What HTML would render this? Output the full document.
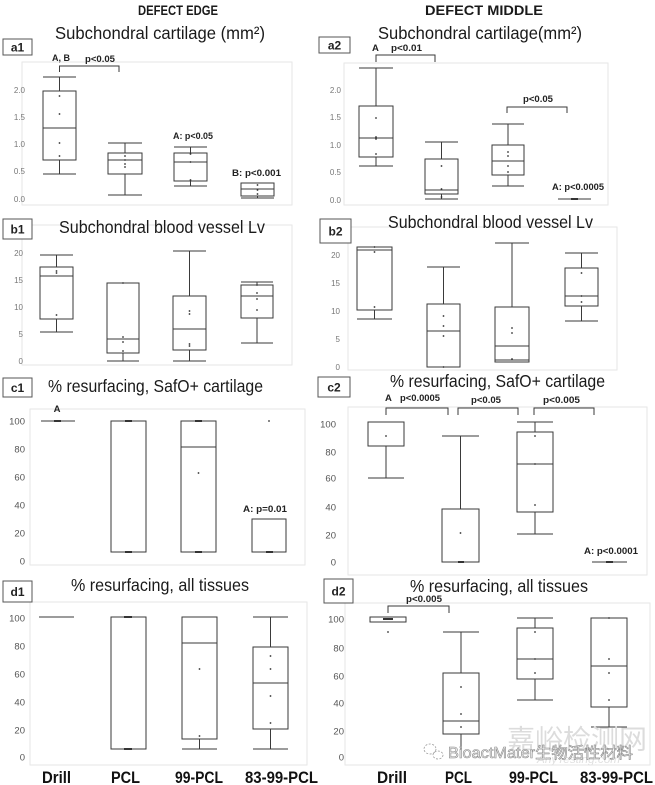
<!DOCTYPE html>
<html><head><meta charset="utf-8"><style>
html,body{margin:0;padding:0;background:#fff;width:655px;height:785px;overflow:hidden}
svg{display:block}
text{font-family:"Liberation Sans","Noto Sans CJK SC",sans-serif}
.t{font-size:17.5px;fill:#1a1a1a}
.h{font-size:14px;font-weight:bold;fill:#1a1a1a}
.lb{font-size:12px;font-weight:bold;fill:#222}
.an{font-size:9.5px;font-weight:bold;fill:#222}
.tk{font-size:8px;fill:#777;text-anchor:end}
.tk2{font-size:9.5px;fill:#555;text-anchor:end}
.xl{font-size:17px;font-weight:bold;fill:#111}
.b{fill:none;stroke:#3a3a3a;stroke-width:1}
.fr{fill:none;stroke:#e6e6e6;stroke-width:1}
.lbx{fill:#fff;stroke:#555;stroke-width:1}
.d{fill:#333}
</style></head><body>
<svg width="655" height="785" viewBox="0 0 655 785" xmlns="http://www.w3.org/2000/svg">
<!-- panel frames -->
<rect class="fr" x="22" y="62" width="270" height="143"/>
<rect class="fr" x="344" y="63" width="264" height="142"/>
<rect class="fr" x="22" y="225" width="270" height="140"/>
<rect class="fr" x="348" y="227" width="269" height="143"/>
<rect class="fr" x="30" y="409" width="275" height="156"/>
<rect class="fr" x="348" y="407" width="299" height="168"/>
<rect class="fr" x="30" y="602" width="277" height="163"/>
<rect class="fr" x="345" y="603" width="305" height="162"/>

<!-- headers -->
<text class="h" x="138" y="15" textLength="80" lengthAdjust="spacingAndGlyphs">DEFECT EDGE</text>
<text class="h" x="425" y="15" textLength="118" lengthAdjust="spacingAndGlyphs">DEFECT MIDDLE</text>

<!-- titles -->
<text class="t" x="55" y="39" textLength="210" lengthAdjust="spacingAndGlyphs">Subchondral cartilage (mm²)</text>
<text class="t" x="378" y="39" textLength="204" lengthAdjust="spacingAndGlyphs">Subchondral cartilage(mm²)</text>
<text class="t" x="59" y="233" textLength="206" lengthAdjust="spacingAndGlyphs">Subchondral blood vessel Lv</text>
<text class="t" x="388" y="228" textLength="205" lengthAdjust="spacingAndGlyphs">Subchondral blood vessel Lv</text>
<text class="t" x="48" y="392" textLength="215" lengthAdjust="spacingAndGlyphs">% resurfacing, SafO+ cartilage</text>
<text class="t" x="390" y="387" textLength="215" lengthAdjust="spacingAndGlyphs">% resurfacing, SafO+ cartilage</text>
<text class="t" x="71" y="591" textLength="178" lengthAdjust="spacingAndGlyphs">% resurfacing, all tissues</text>
<text class="t" x="410" y="592" textLength="178" lengthAdjust="spacingAndGlyphs">% resurfacing, all tissues</text>

<!-- label boxes -->
<rect class="lbx" x="3" y="39" width="29" height="16"/><text class="lb" x="17.5" y="51.5" text-anchor="middle">a1</text>
<rect class="lbx" x="319" y="37" width="31" height="16"/><text class="lb" x="334.5" y="49.5" text-anchor="middle">a2</text>
<rect class="lbx" x="3" y="219" width="29" height="20"/><text class="lb" x="17.5" y="233.5" text-anchor="middle">b1</text>
<rect class="lbx" x="320" y="219" width="31" height="24"/><text class="lb" x="335.5" y="235.5" text-anchor="middle">b2</text>
<rect class="lbx" x="3" y="378" width="29" height="19"/><text class="lb" x="17.5" y="392" text-anchor="middle">c1</text>
<rect class="lbx" x="318" y="377" width="32" height="20"/><text class="lb" x="334" y="391.5" text-anchor="middle">c2</text>
<rect class="lbx" x="3" y="581" width="29" height="21"/><text class="lb" x="17.5" y="596" text-anchor="middle">d1</text>
<rect class="lbx" x="324" y="579" width="29" height="24"/><text class="lb" x="338.5" y="595.5" text-anchor="middle">d2</text>

<!-- tick labels -->
<g class="tk">
<text x="25" y="93">2.0</text><text x="25" y="120">1.5</text><text x="25" y="147">1.0</text><text x="25" y="174">0.5</text><text x="25" y="202">0.0</text>
<text x="341" y="93">2.0</text><text x="341" y="120">1.5</text><text x="341" y="148">1.0</text><text x="341" y="175">0.5</text><text x="341" y="203">0.0</text>
<text x="23" y="256">20</text><text x="23" y="283">15</text><text x="23" y="310">10</text><text x="23" y="337">5</text><text x="23" y="364">0</text>
<text x="340" y="258">20</text><text x="340" y="286">15</text><text x="340" y="314">10</text><text x="340" y="342">5</text><text x="340" y="370">0</text>
</g>
<g class="tk2">
<text x="25" y="424.5">100</text><text x="25" y="452.5">80</text><text x="25" y="480.5">60</text><text x="25" y="508.5">40</text><text x="25" y="536.5">20</text><text x="25" y="564.5">0</text>
<text x="336" y="427.5">100</text><text x="336" y="455.5">80</text><text x="336" y="481.5">60</text><text x="336" y="510.5">40</text><text x="336" y="538.5">20</text><text x="336" y="565.5">0</text>
<text x="25" y="621.5">100</text><text x="25" y="649.5">80</text><text x="25" y="677.5">60</text><text x="25" y="705.5">40</text><text x="25" y="733.5">20</text><text x="25" y="760.5">0</text>
<text x="344" y="622.5">100</text><text x="344" y="651.5">80</text><text x="344" y="679.5">60</text><text x="344" y="706.5">40</text><text x="344" y="734.5">20</text><text x="344" y="760.5">0</text>
</g>

<!-- boxes -->
<g class="b">
<!-- a1 -->
<path d="M43 77H76M59.5 77V91M43 128H76M59.5 160V174M43 174H76"/><rect x="43" y="91" width="33" height="69"/>
<path d="M108 143H142M125 143V153M108 160H142M125 174V195M108 195H142"/><rect x="108" y="153" width="34" height="21"/>
<path d="M174 147H207M190.5 147V153M174 162H207M190.5 181V186M174 186H207"/><rect x="174" y="153" width="33" height="28"/>
<path d="M241 189H274M257.5 196V198M241 198H274"/><rect x="241" y="183" width="33" height="13"/>
<path d="M59.5 72V66H119V72"/>
<!-- a2 -->
<path d="M359 68H393M376 68V106M359 138H393M376 157V166M359 166H393"/><rect x="359" y="106" width="34" height="51"/>
<path d="M425 142H458M441.5 142V159M425 190H458M441.5 194V199M425 199H458"/><rect x="425" y="159" width="33" height="35"/>
<path d="M492 124H524M508 124V145M492 161H524M508 175V186M492 186H524"/><rect x="492" y="145" width="32" height="30"/>
<path d="M558 199H591"/>
<path d="M376 62V55H435V62M507 113V107H567V113"/>
<!-- b1 -->
<path d="M40 255H73M56.5 255V267M40 276H73M56.5 319V332M40 332H73"/><rect x="40" y="267" width="33" height="52"/>
<path d="M107 339H139M123 353V361M107 361H139"/><rect x="107" y="283" width="32" height="70"/>
<path d="M173 251H206M189.5 251V296M173 329H206M189.5 350V361M173 361H206"/><rect x="173" y="296" width="33" height="54"/>
<path d="M241 282H273M257 282V285M241 296H273M257 318V343M241 343H273"/><rect x="241" y="285" width="32" height="33"/>
<!-- b2 -->
<path d="M357 250H392M374.5 310V319M357 319H392"/><rect x="357" y="247" width="35" height="63"/>
<path d="M427 267H460M443.5 267V304M427 331H460"/><rect x="427" y="304" width="33" height="63"/>
<path d="M495 243H529M512 243V307M495 346H529M495 360H529"/><rect x="495" y="307" width="34" height="55"/>
<path d="M565 253H598M581.5 253V268M565 296H598M581.5 306V321M565 321H598"/><rect x="565" y="268" width="33" height="38"/>
<!-- c1 -->
<path d="M41 421H75"/>
<rect x="111" y="421" width="35" height="131"/>
<rect x="181" y="421" width="35" height="131"/><path d="M181 447H216"/>
<rect x="252" y="519" width="34" height="33"/>
<!-- c2 -->
<rect x="368" y="422" width="36" height="24"/><path d="M386 446V478M368 478H404"/>
<path d="M442 436H479M460.5 436V509"/><rect x="442" y="509" width="37" height="53"/>
<path d="M517 422H553M535 422V432M517 464H553M535 512V534M517 534H553"/><rect x="517" y="432" width="36" height="80"/>
<path d="M592 562H627"/>
<path d="M386 415V408H448V415M458 415V408H518V415M534 415V408H594V415"/>
<!-- d1 -->
<path d="M39 617H74"/>
<rect x="111" y="617" width="35" height="132"/>
<rect x="182" y="617" width="35" height="122"/><path d="M182 643H217M199.5 739V749M182 749H217"/>
<path d="M253 617H288M270.5 617V647M253 683H288M270.5 729V749M253 749H288"/><rect x="253" y="647" width="35" height="82"/>
<!-- d2 -->
<rect x="370" y="617" width="36" height="5"/>
<path d="M443 632H479M461 632V673M443 721H479M461 734V752"/><rect x="443" y="673" width="36" height="61"/>
<path d="M517 618H553M535 618V628M517 659H553M535 679V700M517 700H553"/><rect x="517" y="628" width="36" height="51"/>
<path d="M591 666H627M609 707V727M591 727H627"/><rect x="591" y="618" width="36" height="89"/>
<path d="M388 613V606H449V613"/>
</g>
<!-- small thick marks -->
<g stroke="#333" stroke-width="2">
<path d="M54 421H61M125 421H132M125 552H132M195 421H202M195 552H202M266 552H273"/>
<path d="M571 199H578M606 562H613"/>
<path d="M383 619H393M458 562H464"/>
<path d="M124 617H132M124 749H132"/>
</g>

<!-- dots -->
<g class="d">
<circle cx="59.5" cy="96" r="0.9"/><circle cx="59.5" cy="114" r="0.9"/><circle cx="59.5" cy="143" r="0.9"/><circle cx="59.5" cy="156" r="0.9"/>
<circle cx="125" cy="156" r="0.9"/><circle cx="125" cy="160" r="0.9"/><circle cx="125" cy="164" r="0.9"/><circle cx="125" cy="167" r="0.9"/>
<circle cx="190.5" cy="154" r="0.9"/><circle cx="190.5" cy="162" r="0.9"/><circle cx="190.5" cy="180" r="0.9"/>
<circle cx="257.5" cy="185" r="0.9"/><circle cx="257.5" cy="190" r="0.9"/><circle cx="257.5" cy="194" r="0.9"/>
<circle cx="376" cy="118" r="0.9"/><circle cx="376" cy="137" r="0.9"/><circle cx="376" cy="139" r="0.9"/><circle cx="376" cy="154" r="0.9"/>
<circle cx="441.5" cy="166" r="0.9"/><circle cx="441.5" cy="189" r="0.9"/><circle cx="441.5" cy="197" r="0.9"/>
<circle cx="508" cy="152" r="0.9"/><circle cx="508" cy="156" r="0.9"/><circle cx="508" cy="166" r="0.9"/><circle cx="508" cy="172" r="0.9"/>
<circle cx="56.5" cy="271" r="0.9"/><circle cx="56.5" cy="273" r="0.9"/><circle cx="56.5" cy="315" r="0.9"/>
<circle cx="123" cy="283" r="0.9"/><circle cx="123" cy="337" r="0.9"/><circle cx="123" cy="342" r="0.9"/><circle cx="123" cy="351" r="0.9"/>
<circle cx="189.5" cy="311" r="0.9"/><circle cx="189.5" cy="314" r="0.9"/><circle cx="189.5" cy="344" r="0.9"/><circle cx="189.5" cy="346" r="0.9"/>
<circle cx="257" cy="285" r="0.9"/><circle cx="257" cy="293" r="0.9"/><circle cx="257" cy="299" r="0.9"/><circle cx="257" cy="310" r="0.9"/>
<circle cx="374.5" cy="247" r="0.9"/><circle cx="374.5" cy="252" r="0.9"/><circle cx="374.5" cy="307" r="0.9"/>
<circle cx="443.5" cy="316" r="0.9"/><circle cx="443.5" cy="326" r="0.9"/><circle cx="443.5" cy="336" r="0.9"/><circle cx="443.5" cy="367" r="0.9"/>
<circle cx="512" cy="328" r="0.9"/><circle cx="512" cy="333" r="0.9"/><circle cx="512" cy="359" r="0.9"/>
<circle cx="581.5" cy="273" r="0.9"/><circle cx="581.5" cy="296" r="0.9"/><circle cx="581.5" cy="302" r="0.9"/>
<circle cx="198.5" cy="473" r="0.9"/><circle cx="269" cy="421" r="0.9"/>
<circle cx="386" cy="436" r="0.9"/><circle cx="460.5" cy="533" r="0.9"/><circle cx="535" cy="436" r="0.9"/><circle cx="535" cy="464" r="0.9"/><circle cx="535" cy="505" r="0.9"/>
<circle cx="199.5" cy="669" r="0.9"/><circle cx="199.5" cy="736" r="0.9"/>
<circle cx="270.5" cy="656" r="0.9"/><circle cx="270.5" cy="669" r="0.9"/><circle cx="270.5" cy="696" r="0.9"/><circle cx="270.5" cy="723" r="0.9"/>
<circle cx="388" cy="632" r="0.9"/><circle cx="461" cy="687" r="0.9"/><circle cx="461" cy="714" r="0.9"/><circle cx="461" cy="727" r="0.9"/>
<circle cx="535" cy="632" r="0.9"/><circle cx="535" cy="659" r="0.9"/><circle cx="535" cy="673" r="0.9"/>
<circle cx="609" cy="618" r="0.9"/><circle cx="609" cy="659" r="0.9"/><circle cx="609" cy="673" r="0.9"/><circle cx="609" cy="700" r="0.9"/>
</g>

<!-- annotations -->
<g class="an">
<text x="52" y="61" textLength="18" lengthAdjust="spacingAndGlyphs">A, B</text>
<text x="85" y="62" textLength="30" lengthAdjust="spacingAndGlyphs">p&lt;0.05</text>
<text x="173" y="139" textLength="40" lengthAdjust="spacingAndGlyphs">A: p&lt;0.05</text>
<text x="232" y="176" textLength="49" lengthAdjust="spacingAndGlyphs">B: p&lt;0.001</text>
<text x="372" y="51">A</text>
<text x="391" y="51" textLength="31" lengthAdjust="spacingAndGlyphs">p&lt;0.01</text>
<text x="523" y="102" textLength="30" lengthAdjust="spacingAndGlyphs">p&lt;0.05</text>
<text x="552" y="190" textLength="52" lengthAdjust="spacingAndGlyphs">A: p&lt;0.0005</text>
<text x="57" y="412" text-anchor="middle">A</text>
<text x="243" y="512" textLength="44" lengthAdjust="spacingAndGlyphs">A: p=0.01</text>
<text x="385" y="401">A</text>
<text x="400" y="401" textLength="40" lengthAdjust="spacingAndGlyphs">p&lt;0.0005</text>
<text x="471" y="403" textLength="30" lengthAdjust="spacingAndGlyphs">p&lt;0.05</text>
<text x="543" y="403" textLength="37" lengthAdjust="spacingAndGlyphs">p&lt;0.005</text>
<text x="584" y="554" textLength="54" lengthAdjust="spacingAndGlyphs">A: p&lt;0.0001</text>
<text x="406" y="602" textLength="36" lengthAdjust="spacingAndGlyphs">p&lt;0.005</text>
</g>

<!-- watermark -->
<text x="507" y="749" font-size="27" fill="#dcdcdc" textLength="140" lengthAdjust="spacingAndGlyphs" style="font-family:'Noto Sans CJK SC',sans-serif">嘉峪检测网</text>
<text x="537" y="763" font-size="11" font-style="italic" fill="#e0e0e0" textLength="83" lengthAdjust="spacingAndGlyphs">AnyTesting.com</text>
<g fill="none" stroke="#999" stroke-width="0.8" stroke-dasharray="2 1.5">
<ellipse cx="430" cy="749" rx="6" ry="5"/><ellipse cx="438" cy="755" rx="5" ry="4"/>
</g>
<text x="448" y="758" font-size="15.5" fill="#f4f4f4" stroke="#8a8a8a" stroke-width="0.6" textLength="185" lengthAdjust="spacingAndGlyphs" style="font-family:'Liberation Sans','Noto Sans CJK SC',sans-serif">BioactMater生物活性材料</text>

<!-- x labels -->
<g class="xl">
<text x="42" y="783" textLength="29" lengthAdjust="spacingAndGlyphs">Drill</text>
<text x="111" y="783" textLength="29" lengthAdjust="spacingAndGlyphs">PCL</text>
<text x="175" y="783" textLength="48" lengthAdjust="spacingAndGlyphs">99-PCL</text>
<text x="245" y="783" textLength="73" lengthAdjust="spacingAndGlyphs">83-99-PCL</text>
<text x="377" y="783" textLength="30" lengthAdjust="spacingAndGlyphs">Drill</text>
<text x="445" y="783" textLength="27" lengthAdjust="spacingAndGlyphs">PCL</text>
<text x="509" y="783" textLength="49" lengthAdjust="spacingAndGlyphs">99-PCL</text>
<text x="580" y="783" textLength="73" lengthAdjust="spacingAndGlyphs">83-99-PCL</text>
</g>
</svg>
</body></html>
